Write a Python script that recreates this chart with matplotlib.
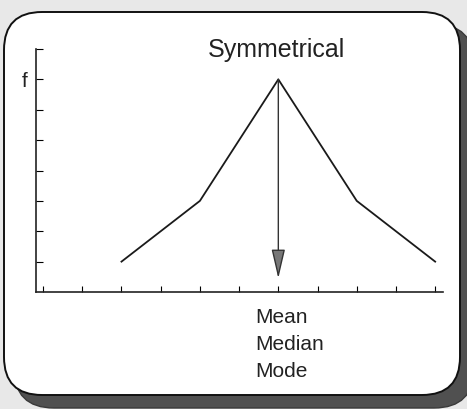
import matplotlib.pyplot as plt
from matplotlib.patches import FancyBboxPatch

plt.rcParams["font.family"] = ["Liberation Sans", "DejaVu Sans"]

# frequency polygon, x in class steps, y in frequency units
x_vals = [2, 4, 6, 8, 10]
freq = [1, 3, 7, 3, 1]
x_ticks = list(range(0, 11))
y_ticks = list(range(1, 9))
y_tick_labels = ["", "", "", "", "", "", "f", ""]
title = "Symmetrical"
centre_labels = ["Mean", "Median", "Mode"]
arrow_tip = 0.45

fig = plt.figure(figsize=(4.67, 4.09), dpi=100)
fig.patch.set_facecolor("#e8e8e8")

# card background drawn in pixel coordinates
bg = fig.add_axes([0, 0, 1, 1])
bg.set_xlim(0, 467)
bg.set_ylim(409, 0)
bg.axis("off")
shadow = FancyBboxPatch((14, 24), 460, 384, boxstyle="round,pad=0,rounding_size=40",
                        facecolor="#505050", edgecolor="#3a3a3a", lw=1)
card = FancyBboxPatch((4, 12), 456, 383, boxstyle="round,pad=0,rounding_size=38",
                      facecolor="white", edgecolor="#111111", lw=1.4)
bg.add_patch(shadow)
bg.add_patch(card)

ax = fig.add_axes([36 / 467, 117 / 409, 407 / 467, 243 / 409])
ax.patch.set_alpha(0)
ax.plot(x_vals, freq, color="#1a1a1a", lw=1.3)

peak = freq.index(max(freq))
ax.annotate("", xy=(x_vals[peak], arrow_tip), xytext=(x_vals[peak], freq[peak]),
            arrowprops=dict(arrowstyle="-|>,head_length=1.8,head_width=0.42",
                            mutation_scale=10, facecolor="#777777",
                            edgecolor="#333333", lw=1.0, shrinkA=0, shrinkB=0))

ax.set_xlim(-0.18, 10.2)
ax.set_ylim(0, 8.0)
ax.set_xticks(x_ticks)
ax.set_xticklabels([])
ax.set_yticks(y_ticks)
ax.set_yticklabels(y_tick_labels, fontsize=15, color="#222222")
ax.tick_params(axis="x", direction="in", length=4, width=0.8)
ax.tick_params(axis="y", direction="in", length=5, width=0.8, pad=6)
for side in ["top", "right"]:
    ax.spines[side].set_visible(False)
for side in ["left", "bottom"]:
    ax.spines[side].set_linewidth(1.2)
    ax.spines[side].set_color("#222222")

fig.text(276.5 / 467, 1 - 57 / 409, title, ha="center", va="baseline",
         fontsize=18, color="#222222")
for i, lab in enumerate(centre_labels):
    fig.text(255 / 467, 1 - (323 + 27 * i) / 409, lab, ha="left", va="baseline",
             fontsize=15, color="#222222")

fig.savefig("out.png", dpi=100, facecolor=fig.get_facecolor())
